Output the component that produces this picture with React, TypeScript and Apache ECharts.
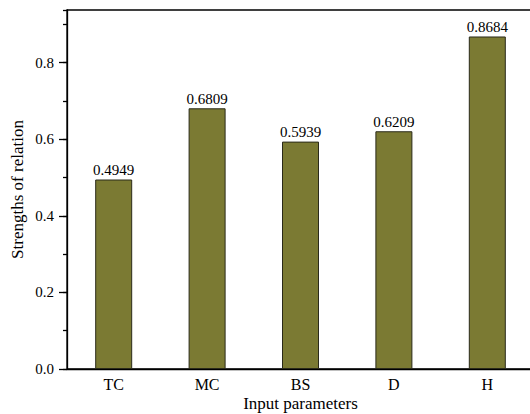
import React, { useEffect, useRef } from "react";
import * as echarts from "echarts";

const categories = ["TC", "MC", "BS", "D", "H"];
const strengths = [0.4949, 0.6809, 0.5939, 0.6209, 0.8684];
const yMax = 0.9376;

const FONT = "Liberation Serif";

export default function App() {
  const ref = useRef<HTMLDivElement>(null);
  useEffect(() => {
    const chart = echarts.init(ref.current!, null, { renderer: "svg" });
    chart.setOption({
      animation: false,
      textStyle: { fontFamily: FONT },
      grid: {
        left: 67,
        top: 10,
        width: 467,
        bottom: 45,
        outerBoundsMode: "none",
        containLabel: false,
        show: true,
        borderColor: "#000",
        borderWidth: 1.3,
      },
      xAxis: {
        type: "category",
        data: categories,
        name: "Input parameters",
        nameLocation: "middle",
        nameGap: 26,
        nameMoveOverlap: false,
        nameTextStyle: { fontFamily: FONT, fontSize: 17, color: "#000" },
        axisLine: { lineStyle: { color: "#000", width: 1.3 } },
        axisTick: { alignWithLabel: true, length: 6, lineStyle: { color: "#000", width: 1.3 } },
        axisLabel: { fontFamily: FONT, fontSize: 16, color: "#000", margin: 7 },
      },
      yAxis: [
        {
          type: "value",
          min: 0,
          max: yMax,
          interval: 0.2,
          name: "Strengths of relation",
          nameLocation: "middle",
          nameGap: 41,
          nameMoveOverlap: false,
          nameTextStyle: { fontFamily: FONT, fontSize: 17, color: "#000" },
          axisLine: { show: true, lineStyle: { color: "#000", width: 1.3 } },
          axisTick: { show: true, length: 8, lineStyle: { color: "#000", width: 1.3 } },
          axisLabel: {
            fontFamily: FONT,
            fontSize: 15,
            color: "#000",
            margin: 13,
            showMaxLabel: false,
            formatter: (v: number) => (v > 0.85 ? "" : v.toFixed(1)),
          },
          splitLine: { show: false },
        },
        {
          type: "value",
          min: 0,
          max: yMax,
          interval: 0.1,
          position: "left",
          axisLine: { show: false },
          axisTick: { show: true, length: 4, lineStyle: { color: "#000", width: 1.3 } },
          axisLabel: { show: false },
          splitLine: { show: false },
        },
      ],
      series: [
        {
          type: "bar",
          data: strengths,
          barWidth: 37,
          itemStyle: { color: "#7b7a33", borderColor: "#2a2a1a", borderWidth: 1 },
          label: {
            show: true,
            position: "top",
            distance: 2,
            fontFamily: FONT,
            fontSize: 15,
            color: "#000",
            formatter: (p: any) => p.value.toFixed(4),
          },
        },
      ],
    });
    return () => chart.dispose();
  }, []);
  return <div ref={ref} style={{ width: 530, height: 414, position: "absolute", left: 0, top: 0 }} />;
}
